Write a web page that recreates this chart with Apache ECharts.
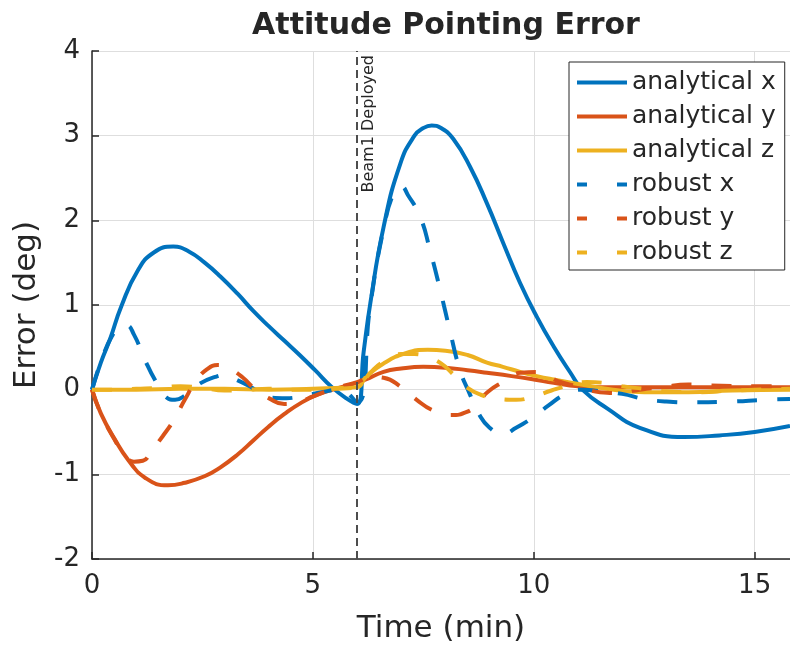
<!DOCTYPE html>
<html>
<head>
<meta charset="utf-8">
<title>Attitude Pointing Error</title>
<script src="https://cdn.jsdelivr.net/npm/echarts@6/dist/echarts.min.js"></script>
<style>
  html, body { margin: 0; padding: 0; background: #ffffff; }
  #chart { width: 790px; height: 650px; }
</style>
</head>
<body>
<div id="chart"></div>
<script>
// Time (min) / error (deg) samples for each controller response
const tAnalyticalX = [0, 0.2, 0.41, 0.66, 1.04, 1.4, 1.84, 2.2, 2.55, 2.9, 3.3, 3.65, 4.0, 4.35, 4.7, 5.05, 5.43, 5.75, 6.0,
  6.15, 6.3, 6.6, 6.98, 7.3, 7.5, 7.69, 7.9, 8.18, 8.56, 8.94, 9.31, 9.69, 10.07, 10.45, 10.83, 11.1, 11.66, 12.4, 13.4, 14.2, 15.0, 15.8];
const analyticalX = [0, 0.32, 0.6, 0.98, 1.41, 1.62, 1.69, 1.63, 1.5, 1.34, 1.13, 0.93, 0.75, 0.58, 0.41, 0.23, 0.03, -0.1, -0.17,
  0.45, 1.02, 1.92, 2.67, 3.0, 3.09, 3.12, 3.09, 2.96, 2.63, 2.2, 1.73, 1.26, 0.86, 0.51, 0.2, 0.0, -0.22, -0.45, -0.56, -0.54, -0.5, -0.43];

const tAnalyticalY = [0, 0.2, 0.52, 0.82, 1.2, 1.72, 2.1, 2.56, 2.9, 3.31, 3.65, 3.99, 4.35, 4.75, 5.1, 5.5, 6.0,
  6.2, 6.6, 7.0, 7.5, 8.0, 8.5, 8.94, 9.5, 10.0, 10.45, 11.0, 11.5, 12.5, 14.0, 15.8];
const analyticalY = [0, -0.28, -0.59, -0.83, -1.04, -1.13, -1.1, -1.02, -0.92, -0.76, -0.6, -0.44, -0.29, -0.15, -0.06, 0.01, 0.08,
  0.12, 0.21, 0.25, 0.27, 0.26, 0.23, 0.2, 0.16, 0.12, 0.08, 0.04, 0.03, 0.03, 0.03, 0.03];

const tAnalyticalZ = [0, 1, 2, 3, 4, 5, 5.5, 6.0, 6.2, 6.6, 7.1, 7.6, 8.0, 8.5, 8.94, 9.3, 9.69, 10.07, 10.45, 11.2, 11.8, 12.5, 13.5, 14.5, 15.8];
const analyticalZ = [0, 0.0, 0.01, 0.01, 0.0, 0.01, 0.02, 0.03, 0.15, 0.31, 0.43, 0.47, 0.46, 0.41, 0.32, 0.27, 0.21, 0.16, 0.12, 0.05, 0.0, -0.03, -0.03, -0.01, 0.0];

const tRobustX = [0, 0.25, 0.45, 0.62, 0.78, 0.95, 1.2, 1.43, 1.68, 1.88, 2.1, 2.47, 2.79, 3.0, 3.3, 3.6, 3.98, 4.4, 4.8, 5.2, 5.6, 6.0,
  6.3, 6.6, 6.85, 7.0, 7.15, 7.43, 7.65, 7.88, 8.1, 8.33, 8.55, 8.75, 9.0, 9.3, 9.6, 10.0, 10.35, 10.7, 11.1, 11.5, 12.0, 12.5, 13.0, 13.6, 14.5, 15.2, 15.8];
const robustX = [0, 0.4, 0.63, 0.74, 0.76, 0.65, 0.35, 0.11, -0.09, -0.12, -0.07, 0.08, 0.15, 0.17, 0.11, 0.03, -0.09, -0.1, -0.07, -0.03, 0.0, -0.15,
  1.0, 1.9, 2.35, 2.4, 2.3, 2.04, 1.65, 1.18, 0.7, 0.23, -0.05, -0.28, -0.45, -0.52, -0.45, -0.32, -0.18, -0.06, 0.0, -0.02, -0.05, -0.11, -0.14, -0.15, -0.14, -0.12, -0.11];

const tRobustY = [0, 0.2, 0.5, 0.75, 0.95, 1.15, 1.35, 1.6, 1.85, 2.1, 2.35, 2.6, 2.85, 3.1, 3.4, 3.7, 4.0, 4.35, 4.7, 5.0, 5.4, 6.0,
  6.35, 6.6, 7.0, 7.35, 7.7, 8.1, 8.5, 8.75, 8.95, 9.3, 9.7, 10.1, 10.55, 11.0, 11.5, 11.9, 12.4, 12.9, 13.5, 14.0, 15.0, 15.8];
const robustY = [0, -0.28, -0.58, -0.78, -0.85, -0.84, -0.72, -0.55, -0.36, -0.12, 0.1, 0.24, 0.29, 0.25, 0.15, 0.0, -0.1, -0.17, -0.14, -0.08, 0.0, 0.09,
  0.15, 0.14, 0.03, -0.12, -0.24, -0.3, -0.26, -0.15, -0.03, 0.09, 0.2, 0.21, 0.1, 0.04, -0.03, -0.04, 0.0, 0.03, 0.06, 0.05, 0.04, 0.04];

const tRobustZ = [0, 0.5, 1.0, 1.5, 2.0, 2.5, 3.0, 3.5, 4.0, 4.5, 5.0, 5.5, 6.0,
  6.3, 6.6, 7.0, 7.3, 7.6, 7.9, 8.2, 8.5, 8.8, 9.2, 9.6, 10.0, 10.4, 10.8, 11.2, 11.6, 12.0, 12.5, 13.0, 13.7, 14.5, 15.8];
const robustZ = [0, 0.0, 0.01, 0.02, 0.04, 0.02, -0.01, 0.0, 0.01, 0.0, 0.0, 0.01, 0.03,
  0.2, 0.33, 0.42, 0.42, 0.38, 0.31, 0.17, 0.02, -0.06, -0.11, -0.12, -0.08, -0.01, 0.05, 0.09, 0.08, 0.04, 0.01, -0.02, -0.03, -0.01, 0.01];

const seriesNames = ['analytical x', 'analytical y', 'analytical z', 'robust x', 'robust y', 'robust z'];
const deployTime = 6;
const deployLabel = 'Beam1 Deployed';
const xTicks = { min: 0, max: 15.8, interval: 5 };
const yTicks = { min: -2, max: 4, interval: 1 };

const BLUE = '#0072BD';
const ORANGE = '#D95319';
const YELLOW = '#EDB120';
const INK = '#262626';
const FONT = '"DejaVu Sans", sans-serif';
const DASH = [20, 20];

function pairs(ts, vs) {
  return ts.map((t, i) => [t, vs[i]]);
}

function lineSeries(name, ts, vs, color, dashed) {
  return {
    name: name,
    type: 'line',
    data: pairs(ts, vs),
    symbol: 'none',
    smooth: 0.5,
    lineStyle: dashed
      ? { color: color, width: 4, type: DASH, cap: 'butt' }
      : { color: color, width: 4, type: 'solid' },
    itemStyle: { color: color },
    z: dashed ? 4 : 3
  };
}

const series = [
  lineSeries(seriesNames[0], tAnalyticalX, analyticalX, BLUE, false),
  lineSeries(seriesNames[1], tAnalyticalY, analyticalY, ORANGE, false),
  lineSeries(seriesNames[2], tAnalyticalZ, analyticalZ, YELLOW, false),
  lineSeries(seriesNames[3], tRobustX, robustX, BLUE, true),
  lineSeries(seriesNames[4], tRobustY, robustY, ORANGE, true),
  lineSeries(seriesNames[5], tRobustZ, robustZ, YELLOW, true)
];

// Deployment marker: dashed vertical line with a rotated caption
series[0].markLine = {
  silent: true,
  symbol: 'none',
  animation: false,
  lineStyle: { color: '#4d4d4d', width: 2, type: [8, 5] },
  label: {
    show: true,
    position: 'insideEndBottom',
    formatter: deployLabel,
    fontFamily: FONT,
    fontSize: 16,
    color: INK,
    distance: 4
  },
  data: [{ xAxis: deployTime }]
};

// Legend swatches: solid bars for analytical, two short dashes for robust
const legendData = seriesNames.map((name, i) => {
  const item = { name: name };
  if (i >= 3) {
    item.lineStyle = { width: 4, type: [10, 30], dashOffset: 0, cap: 'butt' };
  }
  return item;
});

const chart = echarts.init(document.getElementById('chart'), null, { renderer: 'canvas' });

chart.setOption({
  animation: false,
  backgroundColor: '#ffffff',
  title: {
    text: 'Attitude Pointing Error',
    left: 441,
    textAlign: 'center',
    top: 6,
    textStyle: { fontFamily: FONT, fontSize: 30, fontWeight: 'bold', color: INK }
  },
  legend: {
    orient: 'vertical',
    left: 569,
    top: 62,
    padding: [6, 9, 3, 6],
    itemWidth: 50,
    itemHeight: 14,
    itemGap: 5,
    backgroundColor: '#ffffff',
    borderColor: INK,
    borderWidth: 1,
    borderRadius: 0,
    lineStyle: { width: 4 },
    itemStyle: { color: 'rgba(0,0,0,0)', borderColor: 'rgba(0,0,0,0)', borderWidth: 0 },
    textStyle: { fontFamily: FONT, fontSize: 25, lineHeight: 29, color: INK },
    data: legendData
  },
  grid: { left: 92, right: 0, top: 51, bottom: 91, containLabel: false },
  xAxis: {
    type: 'value',
    min: xTicks.min,
    max: xTicks.max,
    interval: xTicks.interval,
    name: 'Time (min)',
    nameLocation: 'middle',
    nameGap: 54,
    nameTextStyle: { fontFamily: FONT, fontSize: 31, color: INK },
    axisLine: { show: true, onZero: false, lineStyle: { color: INK, width: 1.5 } },
    axisTick: { show: true, inside: true, length: 7, lineStyle: { color: INK, width: 1.5 } },
    axisLabel: {
      fontFamily: FONT, fontSize: 26, color: INK, margin: 14,
      showMaxLabel: false
    },
    splitLine: { show: true, lineStyle: { color: '#dedede', width: 1 } }
  },
  yAxis: {
    type: 'value',
    min: yTicks.min,
    max: yTicks.max,
    interval: yTicks.interval,
    name: 'Error (deg)',
    nameLocation: 'middle',
    nameGap: 50,
    nameRotate: 90,
    nameTextStyle: { fontFamily: FONT, fontSize: 31, color: INK },
    axisLine: { show: true, onZero: false, lineStyle: { color: INK, width: 1.5 } },
    axisTick: { show: true, inside: true, length: 7, lineStyle: { color: INK, width: 1.5 } },
    axisLabel: { fontFamily: FONT, fontSize: 26, color: INK, margin: 12 },
    splitLine: { show: true, lineStyle: { color: '#dedede', width: 1 } }
  },
  series: series
});
</script>
</body>
</html>
